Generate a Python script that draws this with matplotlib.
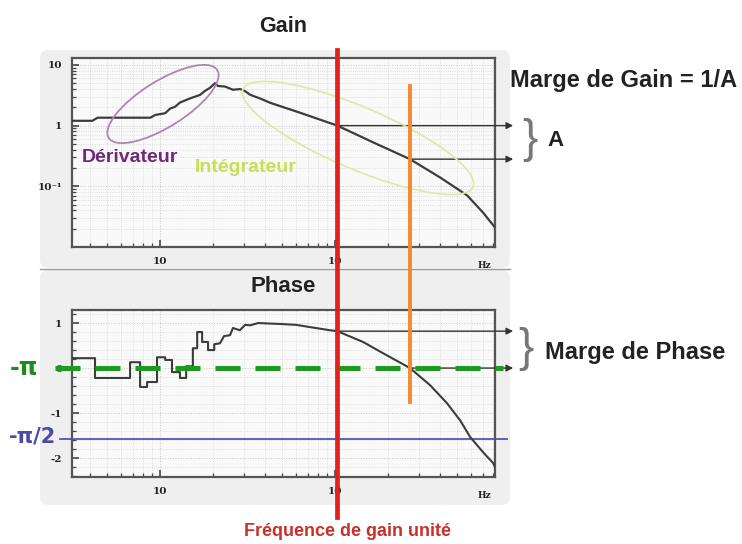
import numpy as np
import matplotlib
matplotlib.use("Agg")
import matplotlib.pyplot as plt
import matplotlib.ticker as ticker
from matplotlib.patches import Ellipse, FancyBboxPatch
from matplotlib.transforms import Affine2D
from matplotlib.lines import Line2D

# gain curve (Hz, |G|)
gain_freq = [3.1, 4.1, 4.4, 8.8, 9.4, 10.7, 11.4, 12.2, 13.0, 14.8, 16.9, 18.1, 19.3, 20.6,
             21.4, 23.5, 26.1, 28.7, 30.6, 32.7, 37.3, 42.5, 63.1, 103, 165, 268, 398, 568,
             700, 820]
gain_mag = [1.2, 1.2, 1.35, 1.35, 1.5, 1.6, 1.9, 2.05, 2.4, 2.8, 3.2, 3.75, 4.2, 5.0,
            4.5, 4.4, 3.9, 4.0, 3.7, 3.22, 2.8, 2.38, 1.63, 1.0, 0.53, 0.28, 0.14, 0.071,
            0.037, 0.021]

# phase curve (Hz, rad)
phase_freq = [3.1, 4.25, 4.25, 6.74, 6.74, 7.69, 7.69, 8.43, 8.43, 9.61, 9.61, 10.7, 10.7,
              11.7, 11.7, 13.0, 13.0, 14.1, 14.1, 15.4, 15.4, 16.3, 16.3, 17.4, 17.4, 18.8,
              18.8, 20.4, 20.4, 22.0, 23.2, 25.1, 26.1, 28.6, 30.6, 32.7, 36.3, 48.5, 60,
              71.9, 93.6, 103, 144.5, 188, 268, 349, 436, 518, 591, 701, 800, 820]
phase_val = [0.22, 0.22, -0.22, -0.22, 0.13, 0.13, -0.42, -0.42, -0.31, -0.31, 0.24, 0.24,
             0.18, 0.18, -0.09, -0.09, -0.22, -0.22, 0.04, 0.04, 0.44, 0.44, 0.8, 0.8, 0.58,
             0.58, 0.4, 0.4, 0.53, 0.55, 0.71, 0.73, 0.89, 0.84, 0.96, 0.95, 1.0, 0.98, 0.96,
             0.91, 0.84, 0.82, 0.58, 0.33, 0.0, -0.38, -0.78, -1.16, -1.53, -1.87, -2.11, -2.2]

F_UNIT = 103        # frequence de gain unite
F_CROSS = 268       # phase = -pi
LEVEL_PI = 0.0
LEVEL_PI2 = -1.57

W, H = 742, 544
fig = plt.figure(figsize=(W / 100, H / 100), dpi=100)
fig.patch.set_facecolor("white")
# pixel coords, y down (for annotations)
px = Affine2D().scale(1 / W, -1 / H).translate(0, 1) + fig.transFigure

# grey panels
for y0, h in [(50, 218), (270, 235)]:
    fig.patches.append(FancyBboxPatch((40, y0), 470, h, boxstyle="round,pad=0,rounding_size=8",
                                      transform=px, fc="#efefef", ec="none", zorder=-5))
fig.add_artist(Line2D([40, 510], [269, 269], transform=px, color="#9a9a9a", lw=1))

TICK_FONT = dict(family="DejaVu Serif", weight="bold", size=7.5)
CURVE = "#3c3c3c"


def style_axes(ax):
    ax.set_facecolor("#f9f9f9")
    for s in ax.spines.values():
        s.set_color("#555555")
        s.set_linewidth(1.6)
    ax.grid(True, which="major", color="#c8c8c8", lw=0.7, ls=":")
    ax.grid(True, which="minor", color="#d6d6d6", lw=0.6, ls=":")
    ax.tick_params(which="both", direction="in", color="#444444", top=False, right=False)
    ax.tick_params(which="major", length=5, width=1.2, pad=7)
    ax.tick_params(which="minor", length=3, width=0.9)
    for lab in ax.get_xticklabels() + ax.get_yticklabels():
        lab.set_fontproperties(TICK_FONT)
        lab.set_color("#222222")


# --- Gain ---
ax_g = fig.add_axes([72 / W, 1 - 247 / H, 423 / W, 189 / H])
ax_g.plot(gain_freq, gain_mag, color=CURVE, lw=1.6, zorder=3)
ax_g.set_xscale("log")
ax_g.set_yscale("log")
ax_g.set_xlim(3.14, 820)
ax_g.set_ylim(0.01, 13)
ax_g.set_xticks([10, 100])
ax_g.set_xticklabels(["10", "10"])
ax_g.xaxis.set_minor_formatter(ticker.NullFormatter())
ax_g.set_yticks([0.1, 1, 10])
ax_g.set_yticklabels(["10⁻¹", "1", "10"])
ax_g.yaxis.set_minor_formatter(ticker.NullFormatter())
style_axes(ax_g)

# --- Phase ---
ax_p = fig.add_axes([72 / W, 1 - 477 / H, 423 / W, 167 / H])
ax_p.plot(phase_freq, phase_val, color=CURVE, lw=1.5, zorder=3)
ax_p.set_xscale("log")
ax_p.set_xlim(3.14, 820)
ax_p.set_ylim(-2.42, 1.29)
ax_p.set_xticks([10, 100])
ax_p.set_xticklabels(["10", "10"])
ax_p.xaxis.set_minor_formatter(ticker.NullFormatter())
ax_p.set_yticks([1, 0, -1, -2])
ax_p.set_yticklabels(["1", "0", "-1", "-2"])
ax_p.yaxis.set_minor_locator(ticker.MultipleLocator(0.2))
style_axes(ax_p)

for y in (265, 496):
    fig.text(484, y, "Hz", transform=px, ha="center", va="center", family="DejaVu Serif",
             fontweight="bold", fontsize=6.5, color="#222222")

# titles
fig.text(283, 27, "Gain", transform=px, ha="center", va="center", fontsize=15.5,
         fontweight="bold", family="Liberation Sans", color="#222222")
fig.text(283, 287, "Phase", transform=px, ha="center", va="center", fontsize=16,
         fontweight="bold", family="Liberation Sans", color="#222222")

# ellipses
fig.add_artist(Ellipse((163, 104), 128, 46, angle=-32, transform=px, fill=False,
                       ec="#a888b0", lw=1.3))
fig.add_artist(Ellipse((358, 138), 250, 62, angle=23, transform=px, fill=False,
                       ec="#dcebaa", lw=1.3))
fig.text(82, 158, "Dérivateur", transform=px, ha="left", va="center", fontsize=14,
         fontweight="bold", family="Liberation Sans", color="#6e2a78")
fig.text(195, 167, "Intégrateur", transform=px, ha="left", va="center", fontsize=14,
         fontweight="bold", family="Liberation Sans", color="#c9de55")

# reference levels in phase
ax_p.axhline(LEVEL_PI2, xmin=-0.028, xmax=1.028, clip_on=False, color="#5252c0", lw=1.3, zorder=2)
ph_at_unit = np.interp(np.log10(F_UNIT), np.log10(phase_freq), phase_val)
g_at_cross = 10 ** np.interp(np.log10(F_CROSS), np.log10(gain_freq), np.log10(gain_mag))

arrow = dict(arrowstyle="-|>", color="#333333", lw=1.0, shrinkA=0, shrinkB=0, mutation_scale=10)
ax_g.annotate("", xy=(1.043, 1.0), xycoords=ax_g.get_yaxis_transform(),
              xytext=(F_UNIT, 1.0), textcoords="data", arrowprops=arrow, annotation_clip=False)
ax_g.annotate("", xy=(1.043, g_at_cross), xycoords=ax_g.get_yaxis_transform(),
              xytext=(F_CROSS, g_at_cross), textcoords="data", arrowprops=arrow, annotation_clip=False)
ax_p.annotate("", xy=(1.043, ph_at_unit), xycoords=ax_p.get_yaxis_transform(),
              xytext=(F_UNIT, ph_at_unit), textcoords="data", arrowprops=arrow, annotation_clip=False)
ax_p.annotate("", xy=(1.043, LEVEL_PI), xycoords=ax_p.get_yaxis_transform(),
              xytext=(F_CROSS, LEVEL_PI), textcoords="data", arrowprops=arrow, annotation_clip=False)
ax_p.axhline(LEVEL_PI, xmin=-0.04, xmax=1.02, clip_on=False, color="#1e9a1e", lw=3.6,
             dashes=(5, 3), zorder=4)

fig.text(24, 368, "-π", transform=px, ha="center", va="center", fontsize=17,
         fontweight="bold", family="DejaVu Sans", color="#1e8c1e")
fig.text(33, 437, "-π/2", transform=px, ha="center", va="center", fontsize=15,
         fontweight="bold", family="DejaVu Sans", color="#4a4aa8")

# vertical markers (unit gain / phase crossover)
fig.canvas.draw()
x_unit = ax_g.transData.transform((F_UNIT, 1))[0] / W
x_cross = ax_g.transData.transform((F_CROSS, 1))[0] / W
fig.add_artist(Line2D([x_unit, x_unit], [1 - 50 / H, 1 - 517 / H], transform=fig.transFigure,
                      color="#e3201b", lw=3.4, zorder=6))
fig.add_artist(Line2D([x_cross, x_cross], [1 - 86 / H, 1 - 402 / H], transform=fig.transFigure,
                      color="#f28a2e", lw=2.8, zorder=5))

# braces and margin labels
fig.text(530, 140, "}", transform=px, ha="center", va="center", fontsize=33,
         family="Liberation Sans", color="#777777")
fig.text(556, 140, "A", transform=px, ha="center", va="center", fontsize=16,
         fontweight="bold", family="Liberation Sans", color="#222222")
fig.text(510, 80, "Marge de Gain = 1/A", transform=px, ha="left", va="center", fontsize=17,
         fontweight="bold", family="Liberation Sans", color="#222222")
fig.text(526, 349, "}", transform=px, ha="center", va="center", fontsize=33,
         family="Liberation Sans", color="#777777")
fig.text(545, 352, "Marge de Phase", transform=px, ha="left", va="center", fontsize=17,
         fontweight="bold", family="Liberation Sans", color="#222222")

fig.text(348, 532, "Fréquence de gain unité", transform=px, ha="center", va="center",
         fontsize=13, fontweight="bold", family="Liberation Sans", color="#c8302c")

fig.savefig("out.png", dpi=100)
